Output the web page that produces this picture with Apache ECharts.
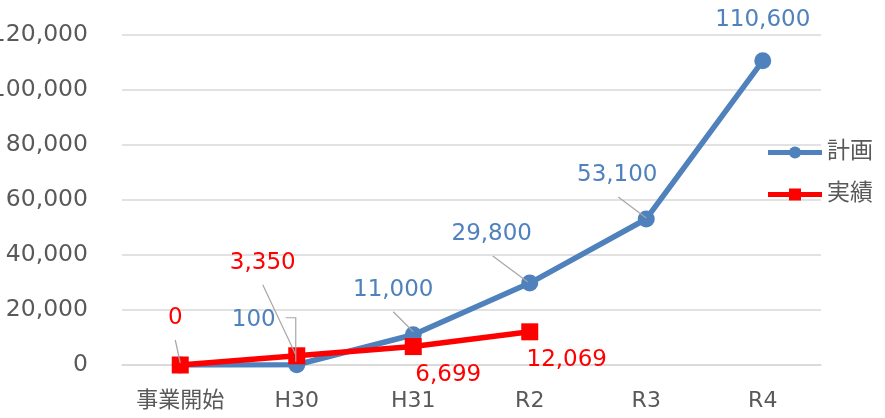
<!DOCTYPE html>
<html><head><meta charset="utf-8">
<script src="https://cdn.jsdelivr.net/npm/echarts@6/dist/echarts.min.js"></script>
<style>html,body{margin:0;padding:0;background:#fff}#c{width:885px;height:418px}</style>
</head><body><div id="c"></div>
<script>
const categories = ['事業開始','H30','H31','R2','R3','R4'];
const planValues = [0, 100, 11000, 29800, 53100, 110600];
const actualValues = [0, 3350, 6699, 12069];
const yTicks = [0, 20000, 40000, 60000, 80000, 100000, 120000];

// label offsets (style) relative to each point: [dx, dy]
const planOffsets = [[0,0],[-43,-45],[-20,-45],[-38,-49],[-29,-44],[0,-41]];
const actualOffsets = [[-5,-47],[-34,-93],[35,28],[37,28]];
// leader polylines (style) as pixel offsets from the point
const planLeaders = [null, [[-11,-47],[-1,-47],[-1,-3]], [[-20,-23],[0,-3]], [[-37,-27],[-2,-1]], [[-28,-22],[0,-1]], null];
const actualLeaders = [[[-5,-25],[0,-2]], [[-34,-71],[-1,-1]], null, null];

const FONT = '"DejaVu Sans", Verdana, "Noto Sans CJK JP", sans-serif';
const fmt = v => v.toLocaleString('en-US');

const leaderData = [];
planValues.forEach((v,i)=>{ if (planLeaders[i]) leaderData.push([i, v, 0]); });
actualValues.forEach((v,i)=>{ if (actualLeaders[i]) leaderData.push([i, v, 1]); });

const chart = echarts.init(document.getElementById('c'));
chart.setOption({
  animation: false,
  textStyle: {fontFamily: FONT},
  grid: {left: 122, right: 64, top: 35, bottom: 53, containLabel: false, outerBoundsMode: 'none'},
  legend: {
    orient: 'vertical', right: 7, top: 136, itemWidth: 54, itemHeight: 15, itemGap: 19,
    textStyle: {fontSize: 23, color: '#595959', fontFamily: FONT},
    lineStyle: {width: 5},
    data: ['計画','実績']
  },
  xAxis: {
    type: 'category', data: categories, boundaryGap: true,
    axisLine: {show: true, lineStyle: {color: '#d9d9d9', width: 1.5}},
    axisTick: {show: false},
    axisLabel: {fontSize: 22, color: '#595959', margin: 25, fontFamily: FONT}
  },
  yAxis: {
    type: 'value', min: yTicks[0], max: yTicks[yTicks.length-1], interval: 20000,
    axisLine: {show: false}, axisTick: {show: false},
    splitLine: {lineStyle: {color: '#d9d9d9', width: 1.5}},
    axisLabel: {fontSize: 23.5, color: '#595959', margin: 34, fontFamily: FONT, formatter: v => fmt(v)}
  },
  series: [
    {
      name: '計画', type: 'line', data: planValues.map((v,i)=> i===0 ? {value:v, label:{show:false}} : v),
      symbol: 'circle', symbolSize: 17,
      itemStyle: {color: '#4f81bd'}, lineStyle: {color: '#4f81bd', width: 5.5},
      label: {show: true, position: 'inside', fontSize: 23, color: '#4f81bd', fontFamily: FONT,
              formatter: p => fmt(p.value)},
      labelLayout: p => ({dx: planOffsets[p.dataIndex][0], dy: planOffsets[p.dataIndex][1]}),
      z: 2
    },
    {
      name: '実績', type: 'line', data: actualValues,
      symbol: 'rect', symbolSize: 17,
      itemStyle: {color: '#ff0000'}, lineStyle: {color: '#ff0000', width: 5.5},
      label: {show: true, position: 'inside', fontSize: 23, color: '#ff0000', fontFamily: FONT,
              formatter: p => fmt(p.value)},
      labelLayout: p => ({dx: actualOffsets[p.dataIndex][0], dy: actualOffsets[p.dataIndex][1]}),
      z: 3
    },
    {
      name: 'leaders', type: 'custom', data: leaderData, z: 4, silent: true,
      renderItem: (params, api) => {
        const idx = api.value(0), val = api.value(1), s = api.value(2);
        const pt = api.coord([idx, val]);
        const offs = (s === 0 ? planLeaders : actualLeaders)[idx];
        return {
          type: 'polyline',
          shape: {points: offs.map(o => [pt[0] + o[0], pt[1] + o[1]])},
          style: {stroke: '#a6a6a6', lineWidth: 1.2, fill: null}
        };
      }
    }
  ]
});
</script></body></html>
